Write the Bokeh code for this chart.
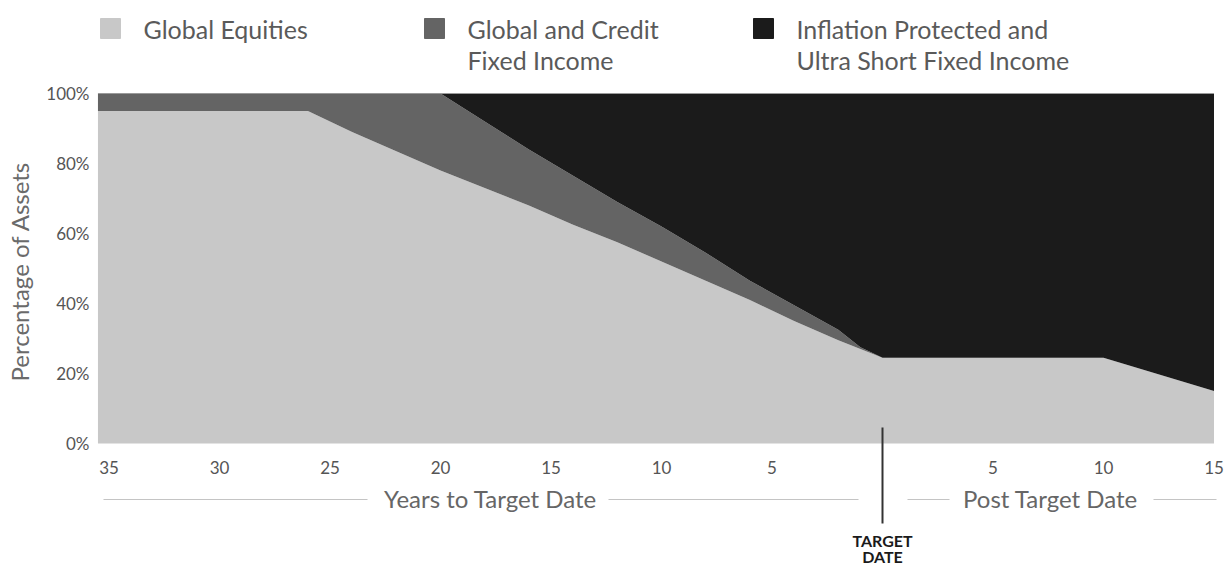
from bokeh.plotting import figure
from bokeh.models import Range1d, ColumnDataSource
from bokeh.core.properties import value
from bokeh.embed import file_html
from bokeh.resources import INLINE

# ---------------- data ----------------
years = [-35.5, -26, -24, -22, -20, -18, -16, -14, -12, -10, -8, -6, -4, -2, -1, 0, 10, 15]
equities = [95, 95, 89, 83.5, 78, 73, 68, 62.5, 57.5, 52, 46.5, 41, 35, 29.5, 27, 24.5, 24.5, 15]
credit_fixed = [5, 5, 11, 16.5, 22, 19, 16, 14, 11.5, 10, 8, 5.5, 4.5, 3, 0.5, 0, 0, 0]
inflation_short = [0, 0, 0, 0, 0, 8, 16, 23.5, 31, 38, 45.5, 53.5, 60.5, 67.5, 72.5, 75.5, 75.5, 85]

series_names = ["Global Equities", "Global and Credit\nFixed Income",
                "Inflation Protected and\nUltra Short Fixed Income"]
series_colors = ["#c8c8c8", "#646464", "#1b1b1b"]

y_ticks = [0, 20, 40, 60, 80, 100]
y_tick_labels = ["0%", "20%", "40%", "60%", "80%", "100%"]
x_ticks = [-35, -30, -25, -20, -15, -10, -5, 5, 10, 15]
x_tick_labels = ["35", "30", "25", "20", "15", "10", "5", "5", "10", "15"]
target_year = 0
y_axis_title = "Percentage of Assets"
pre_title = "Years to Target Date"
post_title = "Post Target Date"
target_text = ["TARGET", "DATE"]

# ---------------- layout helpers (pixel -> data) ----------------
W, H = 1224, 569
PX0, PXS = 882.0, 22.1     # pixel of year 0, pixels per year
PY0, PYS = 443.0, 3.5      # pixel of 0 %, pixels per percent


def fx(px):
    return (px - PX0) / PXS


def fy(py):
    return (PY0 - py) / PYS


FONT = value("Lato")

p = figure(width=W, height=H, output_backend="svg", toolbar_location=None,
           x_range=Range1d(fx(0), fx(W)), y_range=Range1d(fy(H), fy(0)),
           x_axis_location=None, y_axis_location=None, min_border=0,
           outline_line_color=None, background_fill_color="white",
           border_fill_color="white")
p.grid.visible = False

src = ColumnDataSource(dict(year=years, eq=equities, fi=credit_fixed, ip=inflation_short))
p.varea_stack(stackers=["eq", "fi", "ip"], x="year", color=series_colors, source=src)

# thin top border of plot
p.segment(x0=[years[0]], y0=[100], x1=[years[-1]], y1=[100], line_color="#9a9a9a", line_width=1)

# y tick labels
p.text(x=[fx(89)] * len(y_ticks), y=y_ticks, text=y_tick_labels, text_align="right",
       text_baseline="middle", text_font=FONT, text_font_size="17px", text_color="#555555")

# y axis title
p.text(x=[fx(19)], y=[fy(271)], text=[y_axis_title], angle=1.5707963, text_align="center",
       text_baseline="middle", text_font=FONT, text_font_size="24px", text_color="#6a6a6a")

# x tick labels
p.text(x=x_ticks, y=[fy(467)] * len(x_ticks), text=x_tick_labels, text_align="center",
       text_baseline="middle", text_font=FONT, text_font_size="17px", text_color="#555555")

# section titles with rules
p.text(x=[fx(490), fx(1050)], y=[fy(498)] * 2, text=[pre_title, post_title], text_align="center",
       text_baseline="middle", text_font=FONT, text_font_size="24px", text_color="#666666")
p.segment(x0=[fx(103), fx(608), fx(907), fx(1153)], y0=[fy(499)] * 4,
          x1=[fx(367), fx(858), fx(949), fx(1216)], y1=[fy(499)] * 4,
          line_color="#c4c4c4", line_width=1.2)

# target date marker
p.segment(x0=[target_year], y0=[fy(427)], x1=[target_year], y1=[fy(523)],
          line_color="#333333", line_width=2)
p.text(x=[target_year] * 2, y=[fy(540), fy(556)], text=target_text, text_align="center",
       text_baseline="middle", text_font=FONT, text_font_size="16px",
       text_font_style="bold", text_color="#1a1a1a")

# legend
leg_px = [110, 434, 763]
p.rect(x=[fx(v) for v in leg_px], y=[fy(28)] * 3, width=20, height=20,
       width_units="screen", height_units="screen", color=series_colors)
for px, name in zip(leg_px, series_names):
    lines = name.split("\n")
    p.text(x=[fx(px + 33)] * len(lines), y=[fy(28 + 31 * i) for i in range(len(lines))],
           text=lines, text_align="left", text_baseline="middle", text_font=FONT,
           text_font_size="25px", text_color="#5a5a5a")

open("out.html", "w").write(file_html(p, INLINE))
